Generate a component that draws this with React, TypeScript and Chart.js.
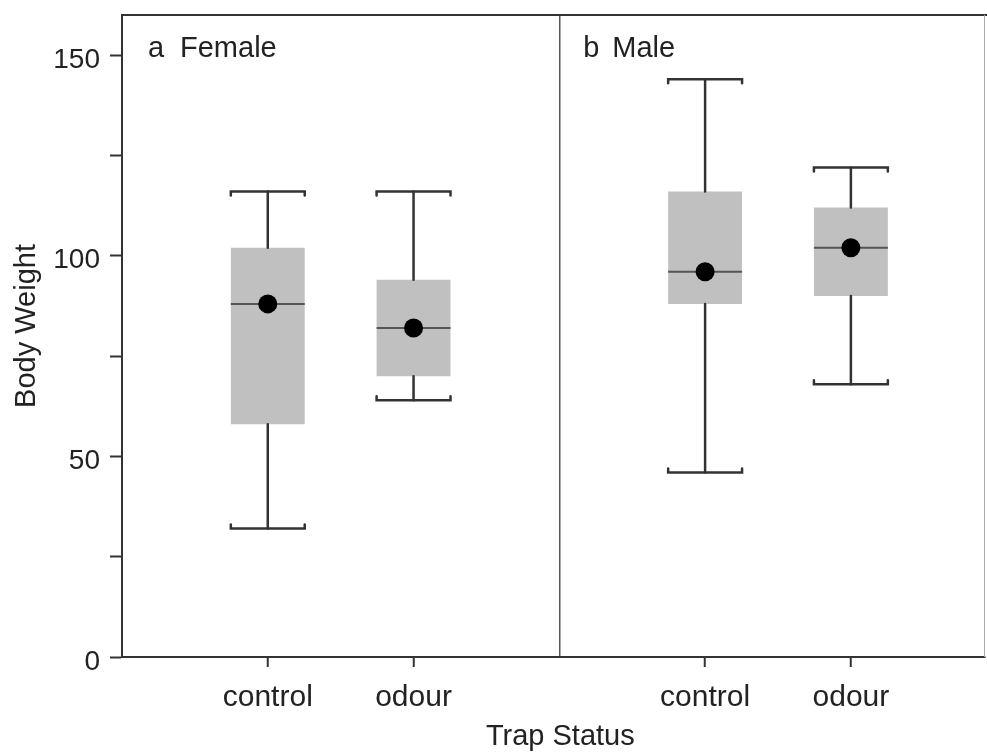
import React, { useEffect, useRef } from 'react';
import { Chart, registerables } from 'chart.js';

Chart.register(...registerables);

// ---- data ----
const categories = ['control', 'odour', 'control', 'odour'];
const xPositions = [1, 2, 4, 5];
const panelDivider = 3;
const panelLetters = ['a', 'b'];
const panelNames = ['Female', 'Male'];
const whiskerLow = [32, 64, 46, 68];
const quartile1 = [58, 70, 88, 90];
const medians = [88, 82, 96, 102];
const quartile3 = [102, 94, 116, 112];
const whiskerHigh = [116, 116, 144, 122];
const means = [88, 82, 96, 102];
const yTicks = [0, 25, 50, 75, 100, 125, 150];
const yLabelled = [0, 50, 100, 150];
const xTitle = 'Trap Status';
const yTitle = 'Body Weight';

const FONT = "'Liberation Sans', Arial, Helvetica, sans-serif";
const TEXT = '#222';
const LINE = '#333';

export default function App() {
  const ref = useRef<HTMLCanvasElement | null>(null);

  useEffect(() => {
    if (!ref.current) return;

    const boxPlugin = {
      id: 'boxWhiskers',
      afterDatasetDraw(chart: any, args: any) {
        if (args.index !== 0) return;
        const { ctx } = chart;
        const xs = chart.scales.x;
        const ys = chart.scales.y;
        const meta = chart.getDatasetMeta(0);
        ctx.save();
        ctx.lineCap = 'round';
        xPositions.forEach((pos, i) => {
          const cx = xs.getPixelForValue(pos);
          const hw = meta.data[i].width / 2;
          const yl = ys.getPixelForValue(whiskerLow[i]);
          const y1 = ys.getPixelForValue(quartile1[i]);
          const ym = ys.getPixelForValue(medians[i]);
          const y3 = ys.getPixelForValue(quartile3[i]);
          const yh = ys.getPixelForValue(whiskerHigh[i]);
          ctx.strokeStyle = LINE;
          ctx.lineWidth = 2.5;
          ctx.beginPath();
          ctx.moveTo(cx, y3);
          ctx.lineTo(cx, yh);
          ctx.moveTo(cx, y1);
          ctx.lineTo(cx, yl);
          ctx.stroke();
          // caps with small turned ends
          ctx.beginPath();
          ctx.moveTo(cx - hw, yh + 4);
          ctx.lineTo(cx - hw, yh);
          ctx.lineTo(cx + hw, yh);
          ctx.lineTo(cx + hw, yh + 4);
          ctx.moveTo(cx - hw, yl - 4);
          ctx.lineTo(cx - hw, yl);
          ctx.lineTo(cx + hw, yl);
          ctx.lineTo(cx + hw, yl - 4);
          ctx.stroke();
          // median
          ctx.strokeStyle = '#555';
          ctx.lineWidth = 2;
          ctx.lineCap = 'butt';
          ctx.beginPath();
          ctx.moveTo(cx - hw, ym);
          ctx.lineTo(cx + hw, ym);
          ctx.stroke();
          ctx.lineCap = 'round';
        });
        ctx.restore();
      },
      afterDraw(chart: any) {
        const { ctx, chartArea } = chart;
        const xs = chart.scales.x;
        ctx.save();
        // frame: top and right
        ctx.strokeStyle = LINE;
        ctx.lineWidth = 2;
        ctx.beginPath();
        ctx.moveTo(chartArea.left, chartArea.top);
        ctx.lineTo(chart.width, chartArea.top);
        ctx.stroke();
        ctx.strokeStyle = '#aaa';
        ctx.lineWidth = 1;
        ctx.beginPath();
        ctx.moveTo(chartArea.right - 0.5, chartArea.top);
        ctx.lineTo(chartArea.right - 0.5, chartArea.bottom);
        ctx.stroke();

        // panel labels
        ctx.fillStyle = TEXT;
        ctx.font = `29px ${FONT}`;
        ctx.textBaseline = 'alphabetic';
        ctx.textAlign = 'left';
        const panelStarts = [chartArea.left, xs.getPixelForValue(panelDivider)];
        panelStarts.forEach((px, i) => {
          ctx.fillText(panelLetters[i], px + (i === 0 ? 26 : 24), chartArea.top + 42);
          ctx.fillText(panelNames[i], px + (i === 0 ? 58 : 53), chartArea.top + 42);
        });

        // axis titles
        ctx.textAlign = 'center';
        ctx.fillText(xTitle, xs.getPixelForValue(panelDivider) + 1, 745);
        ctx.save();
        ctx.translate(35, (chartArea.top + chartArea.bottom) / 2 - 10);
        ctx.rotate(-Math.PI / 2);
        ctx.fillText(yTitle, 0, 0);
        ctx.restore();
        ctx.restore();
      },
    };

    const chart = new Chart(ref.current, {
      type: 'bar',
      data: {
        datasets: [
          {
            type: 'bar',
            data: xPositions.map((x, i) => ({ x, y: [quartile1[i], quartile3[i]] })) as any,
            backgroundColor: '#c0c0c0',
            borderWidth: 0,
            barPercentage: 0.507,
            categoryPercentage: 1,
            order: 2,
          },
          {
            type: 'scatter',
            data: xPositions.map((x, i) => ({ x, y: means[i] })),
            backgroundColor: '#000',
            borderColor: '#000',
            pointRadius: 9.5,
            pointBorderWidth: 0,
            order: 1,
          } as any,
        ],
      },
      options: {
        responsive: false,
        animation: false,
        devicePixelRatio: 1,
        layout: { autoPadding: false, padding: { top: 15, right: 2, left: 0, bottom: 0 } },
        plugins: { legend: { display: false }, tooltip: { enabled: false } },
        scales: {
          x: {
            type: 'linear',
            min: 0,
            max: 5.92,
            offset: false,
            afterBuildTicks: (scale: any) => {
              scale.ticks = [...xPositions, panelDivider].sort((a, b) => a - b).map((v) => ({ value: v }));
            },
            afterFit: (scale: any) => {
              scale.height = 98;
              scale.paddingLeft = 0;
              scale.paddingRight = 0;
            },
            ticks: {
              font: { family: FONT, size: 30 },
              color: TEXT,
              padding: 13,
              maxRotation: 0,
              autoSkip: false,
              callback: (v: any) => {
                const idx = xPositions.indexOf(Number(v));
                return idx >= 0 ? categories[idx] : '';
              },
            },
            grid: {
              offset: false,
              drawOnChartArea: true,
              color: (c: any) => (c.tick && c.tick.value === panelDivider ? '#555' : 'rgba(0,0,0,0)'),
              lineWidth: 1.5,
              tickColor: (c: any) => (c.tick && c.tick.value === panelDivider ? 'rgba(0,0,0,0)' : LINE),
              tickWidth: 2,
              tickLength: 10,
            },
            border: { display: true, color: LINE, width: 2 },
          },
          y: {
            type: 'linear',
            min: 0,
            max: 160,
            afterBuildTicks: (scale: any) => {
              scale.ticks = yTicks.map((v) => ({ value: v }));
            },
            afterFit: (scale: any) => {
              scale.width = 122;
              scale.paddingTop = 0;
              scale.paddingBottom = 0;
            },
            ticks: {
              font: { family: FONT, size: 28 },
              color: TEXT,
              padding: 10,
              labelOffset: 5,
              autoSkip: false,
              callback: (v: any) => (yLabelled.includes(Number(v)) ? String(v) : ''),
            },
            grid: {
              drawOnChartArea: false,
              tickColor: LINE,
              tickWidth: 2,
              tickLength: 12,
            },
            border: { display: true, color: LINE, width: 2 },
          },
        },
      },
      plugins: [boxPlugin],
    });

    return () => chart.destroy();
  }, []);

  return (
    <div style={{ position: 'fixed', left: 0, top: 0, width: 987, height: 755, background: '#fff' }}>
      <canvas ref={ref} width={987} height={755} style={{ display: 'block', width: 987, height: 755 }} />
    </div>
  );
}
